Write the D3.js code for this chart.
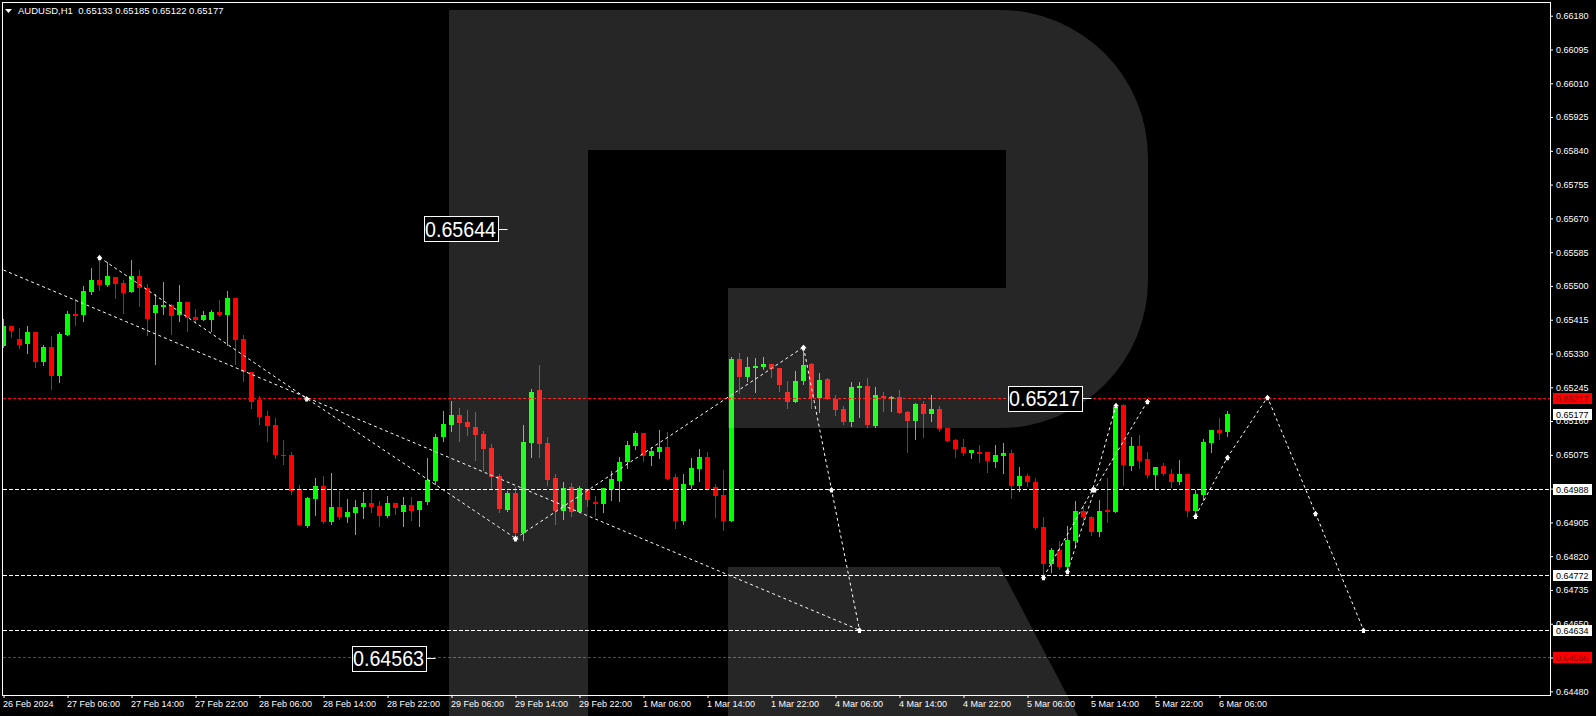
<!DOCTYPE html>
<html><head><meta charset="utf-8">
<script src="https://cdn.jsdelivr.net/npm/d3@7"></script>
<style>
html,body{margin:0;padding:0;background:#000;overflow:hidden}
svg{display:block}
text{font-family:"Liberation Sans",Arial,sans-serif}
</style></head><body>
<svg id="c" width="1596" height="716"></svg>
<script>
// ---------------- data ----------------
const symbolTitle = "AUDUSD,H1";
const lastOHLC = ["0.65133", "0.65185", "0.65122", "0.65177"];

const open = [
0.65349,0.65399,0.65366,0.65354,0.65384,0.65309,0.65346,0.65273,0.65376,0.65429,
0.65427,0.65485,0.65515,0.65502,0.65523,0.65507,0.65485,0.65525,0.65495,0.65432,
0.65447,0.65452,0.65427,0.65459,0.65422,0.65414,0.65414,0.65434,0.65427,0.65470,
0.65366,0.65283,0.65213,0.65173,0.65150,0.65074,0.65074,0.64989,0.64896,0.64964,
0.64997,0.64906,0.64944,0.64919,0.64929,0.64944,0.64954,0.64946,0.64921,0.64954,
0.64931,0.64949,0.64936,0.64956,0.65009,0.65120,0.65150,0.65175,0.65158,0.65145,
0.65127,0.65092,0.65021,0.64936,0.64979,0.64878,0.65105,0.65238,0.65105,0.65016,
0.64934,0.64994,0.64931,0.64989,0.64956,0.64951,0.64989,0.65009,0.65057,0.65097,
0.65130,0.65072,0.65082,0.65094,0.65019,0.64908,0.64999,0.65039,0.65069,0.64994,
0.64974,0.64908,0.65316,0.65271,0.65294,0.65296,0.65304,0.65294,0.65233,0.65208,
0.65261,0.65304,0.65218,0.65266,0.65216,0.65190,0.65158,0.65243,0.65248,0.65147,
0.65223,0.65216,0.65221,0.65183,0.65160,0.65203,0.65178,0.65190,0.65142,0.65112,
0.65094,0.65079,0.65082,0.65082,0.65057,0.65072,0.65079,0.64997,0.65021,0.65007,
0.64893,0.64800,0.64835,0.64793,0.64858,0.64934,0.64919,0.64881,0.64936,0.64931,
0.65200,0.65047,0.65097,0.65064,0.65024,0.65047,0.65027,0.65007,0.65027,0.64934,
0.64974,0.65105,0.65137,0.65133];
const high = [
0.65417,0.65399,0.65394,0.65399,0.65384,0.65351,0.65374,0.65384,0.65437,0.65467,
0.65500,0.65545,0.65573,0.65560,0.65523,0.65515,0.65565,0.65540,0.65505,0.65480,
0.65510,0.65454,0.65502,0.65459,0.65442,0.65437,0.65439,0.65465,0.65487,0.65470,
0.65376,0.65283,0.65223,0.65185,0.65168,0.65112,0.65082,0.64999,0.64969,0.65016,
0.65021,0.65029,0.64984,0.64964,0.64961,0.64982,0.64989,0.64959,0.64972,0.64954,
0.64969,0.64969,0.64959,0.65067,0.65127,0.65185,0.65210,0.65193,0.65188,0.65183,
0.65135,0.65102,0.65027,0.64984,0.64994,0.65150,0.65241,0.65301,0.65120,0.65027,
0.65007,0.65004,0.64997,0.64989,0.64972,0.64992,0.65034,0.65069,0.65110,0.65135,
0.65130,0.65094,0.65137,0.65132,0.65027,0.65027,0.65067,0.65089,0.65082,0.65002,
0.65037,0.65321,0.65331,0.65321,0.65319,0.65321,0.65304,0.65294,0.65261,0.65286,
0.65341,0.65306,0.65281,0.65268,0.65226,0.65198,0.65258,0.65258,0.65268,0.65246,
0.65233,0.65223,0.65238,0.65185,0.65205,0.65210,0.65226,0.65198,0.65142,0.65115,
0.65115,0.65087,0.65100,0.65082,0.65100,0.65105,0.65087,0.65044,0.65027,0.65016,
0.64919,0.64840,0.64858,0.64896,0.64959,0.64949,0.64921,0.64961,0.65016,0.65203,
0.65203,0.65120,0.65125,0.65082,0.65044,0.65054,0.65039,0.65062,0.65027,0.64987,
0.65115,0.65137,0.65168,0.65185];
const low = [
0.65346,0.65371,0.65344,0.65331,0.65296,0.65301,0.65241,0.65258,0.65376,0.65402,
0.65412,0.65480,0.65490,0.65500,0.65470,0.65432,0.65485,0.65449,0.65376,0.65304,
0.65429,0.65379,0.65412,0.65387,0.65407,0.65414,0.65387,0.65424,0.65351,0.65304,
0.65261,0.65193,0.65152,0.65110,0.65067,0.65052,0.64977,0.64898,0.64893,0.64924,
0.64903,0.64901,0.64914,0.64906,0.64876,0.64916,0.64931,0.64896,0.64919,0.64926,
0.64896,0.64911,0.64896,0.64951,0.65002,0.65110,0.65135,0.65110,0.65125,0.65062,
0.65037,0.64989,0.64931,0.64934,0.64861,0.64861,0.65069,0.65069,0.64999,0.64901,
0.64914,0.64921,0.64931,0.64946,0.64921,0.64931,0.64961,0.64959,0.65042,0.65089,
0.65059,0.65049,0.65067,0.65014,0.64891,0.64901,0.64992,0.65009,0.64989,0.64919,
0.64886,0.64908,0.65231,0.65261,0.65233,0.65291,0.65271,0.65236,0.65193,0.65208,
0.65253,0.65193,0.65183,0.65216,0.65175,0.65152,0.65147,0.65170,0.65145,0.65145,
0.65185,0.65185,0.65180,0.65082,0.65115,0.65120,0.65160,0.65135,0.65110,0.65069,
0.65074,0.65067,0.65057,0.65032,0.65044,0.65029,0.64967,0.64984,0.64997,0.64888,
0.64770,0.64780,0.64788,0.64780,0.64845,0.64901,0.64873,0.64871,0.64906,0.64931,
0.64999,0.65037,0.65042,0.65019,0.64989,0.65024,0.64994,0.65002,0.64921,0.64924,
0.64961,0.65082,0.65115,0.65122];
const close = [
0.65399,0.65387,0.65351,0.65384,0.65309,0.65346,0.65273,0.65379,0.65429,0.65424,
0.65487,0.65515,0.65502,0.65525,0.65505,0.65482,0.65525,0.65495,0.65417,0.65452,
0.65452,0.65424,0.65459,0.65419,0.65414,0.65427,0.65434,0.65427,0.65470,0.65364,
0.65283,0.65208,0.65170,0.65147,0.65074,0.65072,0.64984,0.64898,0.64967,0.64997,
0.64906,0.64944,0.64919,0.64931,0.64944,0.64954,0.64944,0.64921,0.64954,0.64941,
0.64949,0.64934,0.64959,0.65012,0.65120,0.65152,0.65175,0.65155,0.65145,0.65125,
0.65089,0.65019,0.64939,0.64979,0.64878,0.65107,0.65233,0.65102,0.65012,0.64934,
0.64992,0.64931,0.64992,0.64961,0.64951,0.64992,0.65014,0.65057,0.65100,0.65130,
0.65072,0.65084,0.65094,0.65014,0.64908,0.65002,0.65042,0.65069,0.64989,0.64972,
0.64908,0.65316,0.65271,0.65296,0.65299,0.65304,0.65291,0.65251,0.65208,0.65261,
0.65301,0.65218,0.65263,0.65216,0.65188,0.65158,0.65246,0.65248,0.65150,0.65226,
0.65218,0.65221,0.65180,0.65160,0.65203,0.65178,0.65190,0.65140,0.65110,0.65089,
0.65079,0.65087,0.65077,0.65059,0.65074,0.65079,0.64997,0.65021,0.65007,0.64891,
0.64800,0.64835,0.64793,0.64861,0.64934,0.64919,0.64881,0.64934,0.64931,0.65195,
0.65049,0.65097,0.65059,0.65024,0.65044,0.65027,0.65007,0.65027,0.64934,0.64977,
0.65107,0.65137,0.65130,0.65177];

const priceTicks = [0.66180,0.66095,0.66010,0.65925,0.65840,0.65755,0.65670,0.65585,0.65500,
  0.65415,0.65330,0.65245,0.65160,0.65075,0.64990,0.64905,0.64820,0.64735,0.64650,0.64565,0.64480];

const timeTickBars = [0,8,16,24,32,40,48,56,64,72,80,88,96,104,112,120,128,136,144,152];
const timeTickLabels = ["26 Feb 2024","27 Feb 06:00","27 Feb 14:00","27 Feb 22:00","28 Feb 06:00",
  "28 Feb 14:00","28 Feb 22:00","29 Feb 06:00","29 Feb 14:00","29 Feb 22:00","1 Mar 06:00",
  "1 Mar 14:00","1 Mar 22:00","4 Mar 06:00","4 Mar 14:00","4 Mar 22:00","5 Mar 06:00",
  "5 Mar 14:00","5 Mar 22:00","6 Mar 06:00"];

const whiteLevels = [0.64988, 0.64772, 0.64634];
const redLevels = [0.65217, 0.64566];
const currentPrice = 0.65177;

const calloutPrices = [0.65644, 0.65217, 0.64563];
const calloutBars = [63, 136, 54];

// forecast wave paths: [bar index, price]
const waveLong  = [[0, 0.65540], [107, 0.64634]];
const waveA = [[12, 0.65572], [37.9, 0.65217], [64, 0.64865]];
const waveB = [[64, 0.64865], [100, 0.65346]];
const waveC = [[100, 0.65346], [103.5, 0.64988], [107, 0.64634]];
const waveD = [[130, 0.64767], [136.15, 0.64988], [139.06, 0.65200]];
const waveE = [[133, 0.64782], [136.4, 0.64988], [143, 0.65210]];
const waveF = [[149, 0.64921], [153, 0.65069], [158, 0.65220], [164, 0.64928], [170, 0.64634]];

// ---------------- drawing ----------------
const W = 1596, H = 716;
const L = 2.5, T = 2.5, R = 1550.5, B = 695.5;
const svg = d3.select("#c");
svg.append("rect").attr("width", W).attr("height", H).attr("fill", "#000");

const x = d3.scaleLinear().domain([0, 100]).range([3.5, 803.5]);
const y = d3.scaleLinear().domain([0.6618, 0.6448]).range([15.7, 691.3]);
const py = p => Math.round(y(p));

svg.append("clipPath").attr("id", "plot")
  .append("rect").attr("x", 3).attr("y", 3).attr("width", R - 3.5).attr("height", B - 3.5);

const plot = svg.append("g").attr("clip-path", "url(#plot)");

// candles
const n = open.length;
const idx = d3.range(n);
const col = i => close[i] >= open[i] ? "#00ff00" : "#ff0000";
const cg = plot.append("g").attr("shape-rendering", "crispEdges");
cg.selectAll("line.wick").data(idx).join("line")
  .attr("class", "wick")
  .attr("x1", i => x(i)).attr("x2", i => x(i))
  .attr("y1", i => py(Math.max(high[i], open[i], close[i])))
  .attr("y2", i => py(Math.min(low[i], open[i], close[i])) + 1)
  .attr("stroke", col).attr("stroke-width", 1);
cg.selectAll("rect.body").data(idx).join("rect")
  .attr("class", "body")
  .attr("x", i => x(i) - 2.5).attr("width", 5)
  .attr("y", i => py(Math.max(open[i], close[i])))
  .attr("height", i => Math.max(1, py(Math.min(open[i], close[i])) - py(Math.max(open[i], close[i]))))
  .attr("fill", col);

// horizontal levels
const lv = plot.append("g").attr("shape-rendering", "crispEdges");
lv.selectAll("line.wl").data(whiteLevels).join("line").attr("class", "wl")
  .attr("x1", 3).attr("x2", R).attr("y1", d => py(d) + 0.5).attr("y2", d => py(d) + 0.5)
  .attr("stroke", "#fff").attr("stroke-dasharray", "4,2");
lv.selectAll("line.rl").data(redLevels).join("line").attr("class", "rl")
  .attr("x1", 3).attr("x2", R).attr("y1", d => py(d) + 0.5).attr("y2", d => py(d) + 0.5)
  .attr("stroke", "#ff0000").attr("stroke-dasharray", "3,2");

// forecast waves
const waves = [waveLong, waveA, waveB, waveC, waveD, waveE, waveF];
const lineGen = d3.line().x(d => x(d[0])).y(d => y(d[1]));
plot.append("g").selectAll("path").data(waves).join("path")
  .attr("d", lineGen).attr("fill", "none").attr("stroke", "#fff")
  .attr("stroke-width", 1).attr("stroke-dasharray", "3,3");
const markerPts = [];
waves.forEach((w, k) => w.forEach((p, j) => { if (!(k === 0 && j === 0)) markerPts.push(p); }));
plot.append("g").selectAll("path").data(markerPts).join("path")
  .attr("transform", d => `translate(${x(d[0])},${y(d[1])})`)
  .attr("d", "M-3,1 L0,-2.5 L3,1 L1.5,1 L1.5,3 L-1.5,3 L-1.5,1 Z")
  .attr("fill", "#fff");

// watermark logo (semi-transparent overlay)
const logo = svg.append("g").attr("fill", "#fff").attr("fill-opacity", 0.15);
logo.append("path").attr("d",
  "M449,10 H1000 A148,148 0 0 1 1148,158 V280 A148,148 0 0 1 1000,428 H728 V288 H1006 V150 H588 V716 H449 Z");
logo.append("path").attr("d", "M728,567 H1000 L1078,716 H728 Z");

// callout boxes
const cb = svg.append("g");
calloutPrices.forEach((p, k) => {
  const ax = x(calloutBars[k]), yc = y(p);
  const g = cb.append("g");
  g.append("line").attr("x1", ax - 10).attr("x2", ax).attr("y1", Math.round(yc) + 0.5).attr("y2", Math.round(yc) + 0.5)
    .attr("stroke", "#fff");
  g.append("rect").attr("x", Math.round(ax - 84) + 0.5).attr("y", Math.round(yc - 12.5) + 0.5)
    .attr("width", 74).attr("height", 25).attr("fill", "#000").attr("stroke", "#fff");
  g.append("text").attr("x", ax - 47).attr("y", Math.round(yc) + 8)
    .attr("text-anchor", "middle").attr("fill", "#fff").attr("font-size", 22)
    .attr("textLength", 71).attr("lengthAdjust", "spacingAndGlyphs")
    .text(d3.format(".5f")(p));
});

// frame
svg.append("rect").attr("x", L).attr("y", T).attr("width", R - L).attr("height", B - T)
  .attr("fill", "none").attr("stroke", "#fff").attr("shape-rendering", "crispEdges");

// price axis
const ya = svg.append("g").attr("transform", `translate(${R - 0.5},0)`)
  .call(d3.axisRight(y).tickValues(priceTicks).tickSize(3).tickPadding(3).tickFormat(d3.format(".5f")));
ya.select(".domain").remove();
ya.selectAll("line").attr("stroke", "#fff");
ya.selectAll("text").attr("fill", "#fff").attr("font-size", 9).attr("font-family", "Liberation Sans, Arial, sans-serif");

// time axis
const xa = svg.append("g").attr("transform", `translate(0,${B - 0.5})`)
  .call(d3.axisBottom(x).tickValues(timeTickBars).tickSize(3).tickPadding(3)
    .tickFormat((d, i) => timeTickLabels[i]));
xa.select(".domain").remove();
xa.selectAll("line").attr("stroke", "#fff");
xa.selectAll("text").attr("fill", "#fff").attr("font-size", 9).attr("text-anchor", "start").attr("x", -1)
  .attr("font-family", "Liberation Sans, Arial, sans-serif");

// price badges
function badge(p, bg, fg) {
  const yc = py(p);
  const g = svg.append("g").attr("shape-rendering", "crispEdges");
  g.append("rect").attr("x", 1553).attr("y", yc - 5).attr("width", 39).attr("height", 11).attr("fill", bg);
  g.append("text").attr("x", 1556).attr("y", yc + 4).attr("fill", fg).attr("font-size", 9)
    .text(d3.format(".5f")(p));
}
whiteLevels.forEach(p => badge(p, "#fff", "#000"));
redLevels.forEach(p => badge(p, "#ff0000", "#800000"));
badge(currentPrice, "#fff", "#000");

// header
svg.append("path").attr("d", "M5,9 H12 L8.5,13 Z").attr("fill", "#fff");
svg.append("text").attr("x", 18).attr("y", 14).attr("fill", "#fff").attr("font-size", 9.5)
  .attr("xml:space", "preserve").style("white-space", "pre")
  .text(symbolTitle + "  " + lastOHLC.join(" "));
</script>
</body></html>
